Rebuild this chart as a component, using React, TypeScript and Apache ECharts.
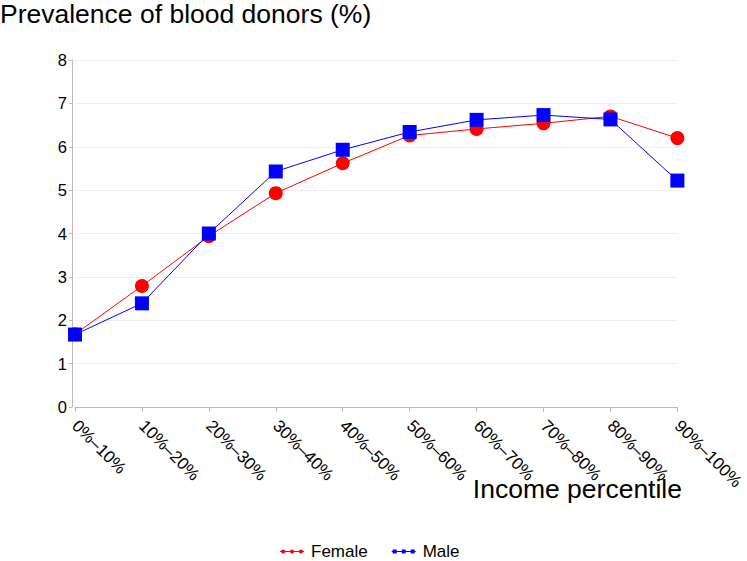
import React, { useEffect, useRef } from "react";
import * as echarts from "echarts";

const categories = ["0%–10%", "10%–20%", "20%–30%", "30%–40%", "40%–50%", "50%–60%", "60%–70%", "70%–80%", "80%–90%", "90%–100%"];
const femaleValues = [1.68, 2.79, 3.94, 4.93, 5.62, 6.26, 6.41, 6.54, 6.70, 6.20];
const maleValues = [1.67, 2.39, 4.0, 5.43, 5.93, 6.34, 6.62, 6.73, 6.63, 5.22];
const yTicks = [0, 8, 1];

const FONT = "'Liberation Sans', Arial, Helvetica, sans-serif";

const femaleIcon =
  "path://M0,4.5L24,4.5L24,5.5L0,5.5Z M1,5a2.1,2.1 0 1,1 4.2,0a2.1,2.1 0 1,1 -4.2,0Z M9.9,5a2.1,2.1 0 1,1 4.2,0a2.1,2.1 0 1,1 -4.2,0Z M18.8,5a2.1,2.1 0 1,1 4.2,0a2.1,2.1 0 1,1 -4.2,0Z";
const maleIcon =
  "path://M0,4.5L24,4.5L24,5.5L0,5.5Z M1,3L5,3L5,7L1,7Z M10,3L14,3L14,7L10,7Z M19,3L23,3L23,7L19,7Z";

export default function App() {
  const ref = useRef<HTMLDivElement>(null);
  useEffect(() => {
    if (!ref.current) return;
    const chart = echarts.init(ref.current, undefined, { renderer: "svg" });
    chart.setOption({
      animation: false,
      backgroundColor: "#ffffff",
      title: [
        {
          text: "Prevalence of blood donors (%)",
          left: 0,
          top: 0,
          padding: 0,
          textStyle: { fontFamily: FONT, fontSize: 26.5, fontWeight: "normal", color: "#000" },
        },
        {
          text: "Income percentile",
          right: 65,
          top: 475,
          padding: 0,
          textStyle: { fontFamily: FONT, fontSize: 26.5, fontWeight: "normal", color: "#000" },
        },
      ],
      legend: {
        top: 543,
        left: 280,
        padding: 0,
        itemWidth: 24,
        itemHeight: 8,
        itemGap: 24,
        textStyle: { fontFamily: FONT, fontSize: 17, color: "#000", padding: [0, 0, 0, 2] },
        data: [
          { name: "Female", icon: femaleIcon, itemStyle: { color: "#ff0000" } },
          { name: "Male", icon: maleIcon, itemStyle: { color: "#0000ff" } },
        ],
      },
      grid: { left: 75, right: 65, top: 60, bottom: 154, containLabel: false },
      xAxis: {
        type: "category",
        data: categories,
        boundaryGap: false,
        axisLine: { lineStyle: { color: "#bbbbbb" } },
        axisTick: { show: true, length: 5, lineStyle: { color: "#bbbbbb" } },
        axisLabel: {
          rotate: -45,
          interval: 0,
          fontFamily: FONT,
          fontSize: 17,
          color: "#000",
          margin: 16,
        },
        splitLine: { show: false },
      },
      yAxis: {
        type: "value",
        min: yTicks[0],
        max: yTicks[1],
        interval: yTicks[2],
        offset: 3,
        axisLine: { show: true, lineStyle: { color: "#bbbbbb" } },
        axisTick: { show: true, length: 3, lineStyle: { color: "#bbbbbb" } },
        axisLabel: { fontFamily: FONT, fontSize: 16.5, color: "#000", margin: 5 },
        splitLine: { show: true, lineStyle: { color: "#eeeeee", width: 1 } },
      },
      series: [
        {
          name: "Female",
          type: "line",
          data: femaleValues,
          symbol: "circle",
          symbolSize: 14,
          itemStyle: { color: "#ff0000" },
          lineStyle: { color: "#ff0000", width: 1 },
          z: 2,
        },
        {
          name: "Male",
          type: "line",
          data: maleValues,
          symbol: "rect",
          symbolSize: 14,
          itemStyle: { color: "#0000ff" },
          lineStyle: { color: "#0000ff", width: 1 },
          z: 3,
        },
      ],
    });
    return () => chart.dispose();
  }, []);
  return <div ref={ref} style={{ width: 747, height: 561, position: "absolute", left: 0, top: 0 }} />;
}
